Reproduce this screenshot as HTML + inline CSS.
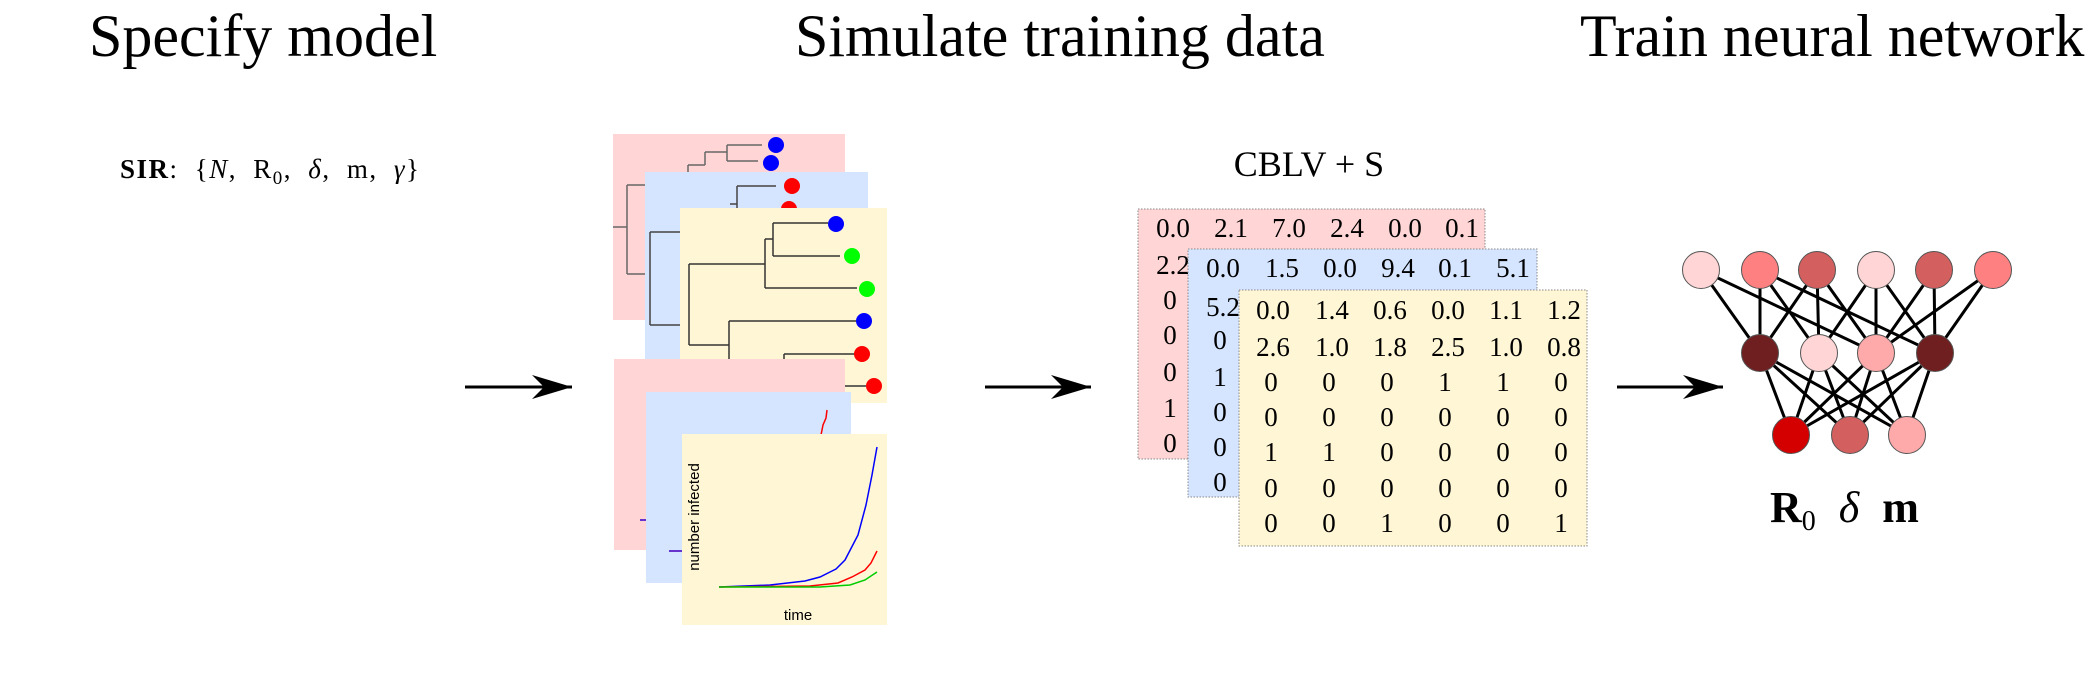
<!DOCTYPE html>
<html><head><meta charset="utf-8"><style>
body{margin:0;width:2095px;height:686px;background:#fff;overflow:hidden;position:relative;font-family:"Liberation Serif",serif}
.t{position:absolute;font-size:60px;top:2px;white-space:nowrap}
</style></head><body>
<div class="t" style="left:89px">Specify model</div>
<div class="t" style="left:795px">Simulate training data</div>
<div class="t" style="left:1580px">Train neural network</div>
<svg width="2095" height="686" style="position:absolute;left:0;top:0" font-family="Liberation Serif, serif">
<defs><marker id="ah" viewBox="0 0 40 24" refX="40" refY="12" markerWidth="40" markerHeight="24" markerUnits="userSpaceOnUse" orient="auto"><path d="M0,0 L40,12 L0,24 L12,12 Z" fill="#000"/></marker></defs>
<text x="120" y="178" font-size="27" word-spacing="8" letter-spacing="1.5"><tspan font-weight="bold">SIR</tspan>:  {<tspan font-style="italic">N</tspan>, R<tspan font-size="19" dy="6">0</tspan><tspan dy="-6">, </tspan><tspan font-style="italic">δ</tspan>, m, <tspan font-style="italic">γ</tspan>}</text>
<g stroke="#000" stroke-width="3" marker-end="url(#ah)">
<line x1="465" y1="387" x2="572" y2="387"/><line x1="985" y1="387" x2="1091" y2="387"/><line x1="1617" y1="387" x2="1723" y2="387"/></g>
<!-- trees -->
<rect x="613" y="134" width="232" height="186" fill="#ffd5d5"/>
<g stroke="#666" stroke-width="1.5" fill="none"><path d="M613 227H627M627 185V274M627 185H690M627 274H650M688 165V185M688 165H705M705 152V165M705 152H727M727 145V161M727 145H762M727 161H758"/></g>
<circle cx="776" cy="145" r="8" fill="#00f"/><circle cx="771" cy="163" r="8" fill="#00f"/>
<rect x="645" y="172" width="223" height="196" fill="#d5e5ff"/>
<g stroke="#444" stroke-width="1.5" fill="none"><path d="M650 232V325M650 232H680M650 325H680M737 186V210M737 186H776M730 204H737"/></g>
<circle cx="792" cy="186" r="8" fill="#f00"/><circle cx="789" cy="209" r="8" fill="#f00"/>
<rect x="680" y="208" width="207" height="195" fill="#fff6d5"/>
<g stroke="#333" stroke-width="1.5" fill="none"><path d="M689 264V345M689 264H765M765 239V288M765 239H773M773 223V256M773 223H828M773 256H840M765 288H857M689 345H729M729 321V370M729 321H856M729 370H784M784 354V386M784 354H855M784 386H866"/></g>
<circle cx="836" cy="224" r="8" fill="#00f"/><circle cx="852" cy="256" r="8" fill="#0f0"/><circle cx="867" cy="289" r="8" fill="#0f0"/><circle cx="864" cy="321" r="8" fill="#00f"/><circle cx="862" cy="354" r="8" fill="#f00"/><circle cx="874" cy="386" r="8" fill="#f00"/>
<!-- plots -->
<rect x="614" y="359" width="231" height="191" fill="#ffd5d5"/>
<line x1="640" y1="520" x2="646" y2="520" stroke="#63c" stroke-width="2"/>
<rect x="646" y="392" width="205" height="191" fill="#d5e5ff"/>
<path d="M820 440 L823 425 L826 418 L827 410" stroke="#f00" fill="none" stroke-width="1.5"/>
<line x1="669" y1="551" x2="682" y2="551" stroke="#63c" stroke-width="2"/>
<rect x="682" y="434" width="205" height="191" fill="#fff6d5"/>
<path d="M719 587 L770 585 L805 581 L820 577 L830 572 L836 569 L845 560 L858 535 L866 505 L872 475 L877 447" stroke="#00f" fill="none" stroke-width="1.5"/>
<path d="M719 587 L810 586 L838 583 L852 577 L865 570 L871 563 L877 551" stroke="#f00" fill="none" stroke-width="1.5"/>
<path d="M719 587 L820 587 L850 585 L865 580 L877 572" stroke="#0c0" fill="none" stroke-width="1.5"/>
<text x="0" y="0" font-family="Liberation Sans, sans-serif" font-size="15" text-anchor="middle" transform="translate(699,517) rotate(-90)">number infected</text>
<text x="798" y="620" font-family="Liberation Sans, sans-serif" font-size="15" text-anchor="middle">time</text>
<!-- matrices -->
<text x="1309" y="176" font-size="36" text-anchor="middle">CBLV + S</text>
<g font-size="27" text-anchor="middle" dominant-baseline="central">
<rect x="1138" y="209" width="347" height="250" fill="#ffd5d5" stroke="#888" stroke-dasharray="1.5,1.5"/>
<text y="228"><tspan x="1173">0.0</tspan><tspan x="1231">2.1</tspan><tspan x="1289">7.0</tspan><tspan x="1347">2.4</tspan><tspan x="1405">0.0</tspan><tspan x="1462">0.1</tspan></text>
<text x="1173" y="265">2.2</text><text x="1170" y="300">0</text><text x="1170" y="335">0</text><text x="1170" y="372">0</text><text x="1170" y="408">1</text><text x="1170" y="443">0</text>
<rect x="1188" y="249" width="349" height="248" fill="#d5e5ff" stroke="#888" stroke-dasharray="1.5,1.5"/>
<text y="268"><tspan x="1223">0.0</tspan><tspan x="1282">1.5</tspan><tspan x="1340">0.0</tspan><tspan x="1398">9.4</tspan><tspan x="1455">0.1</tspan><tspan x="1513">5.1</tspan></text>
<text x="1223" y="307">5.2</text><text x="1220" y="340">0</text><text x="1220" y="377">1</text><text x="1220" y="412">0</text><text x="1220" y="447">0</text><text x="1220" y="482">0</text>
<rect x="1239" y="290" width="348" height="256" fill="#fff6d5" stroke="#888" stroke-dasharray="1.5,1.5"/>
<text y="310"><tspan x="1273">0.0</tspan><tspan x="1332">1.4</tspan><tspan x="1390">0.6</tspan><tspan x="1448">0.0</tspan><tspan x="1506">1.1</tspan><tspan x="1564">1.2</tspan></text>
<text y="347"><tspan x="1273">2.6</tspan><tspan x="1332">1.0</tspan><tspan x="1390">1.8</tspan><tspan x="1448">2.5</tspan><tspan x="1506">1.0</tspan><tspan x="1564">0.8</tspan></text>
<text y="382"><tspan x="1271">0</tspan><tspan x="1329">0</tspan><tspan x="1387">0</tspan><tspan x="1445">1</tspan><tspan x="1503">1</tspan><tspan x="1561">0</tspan></text>
<text y="417"><tspan x="1271">0</tspan><tspan x="1329">0</tspan><tspan x="1387">0</tspan><tspan x="1445">0</tspan><tspan x="1503">0</tspan><tspan x="1561">0</tspan></text>
<text y="452"><tspan x="1271">1</tspan><tspan x="1329">1</tspan><tspan x="1387">0</tspan><tspan x="1445">0</tspan><tspan x="1503">0</tspan><tspan x="1561">0</tspan></text>
<text y="488"><tspan x="1271">0</tspan><tspan x="1329">0</tspan><tspan x="1387">0</tspan><tspan x="1445">0</tspan><tspan x="1503">0</tspan><tspan x="1561">0</tspan></text>
<text y="523"><tspan x="1271">0</tspan><tspan x="1329">0</tspan><tspan x="1387">1</tspan><tspan x="1445">0</tspan><tspan x="1503">0</tspan><tspan x="1561">1</tspan></text>
</g>
<!-- NN -->
<g stroke="#000" stroke-width="3">
<path d="M1701 270L1760 353M1701 270L1876 353M1760 270L1760 353M1760 270L1819 353M1760 270L1935 353M1817 270L1760 353M1817 270L1819 353M1817 270L1876 353M1876 270L1819 353M1876 270L1876 353M1876 270L1935 353M1934 270L1876 353M1934 270L1935 353M1993 270L1876 353M1993 270L1935 353"/>
<path d="M1760 353L1791 435M1760 353L1850 435M1760 353L1907 435M1819 353L1791 435M1819 353L1850 435M1819 353L1907 435M1876 353L1791 435M1876 353L1850 435M1876 353L1907 435M1935 353L1791 435M1935 353L1850 435M1935 353L1907 435"/>
</g>
<g stroke="#555" stroke-width="1">
<circle cx="1701" cy="270" r="18.5" fill="#ffd5d5"/><circle cx="1760" cy="270" r="18.5" fill="#ff8080"/><circle cx="1817" cy="270" r="18.5" fill="#d35f5f"/><circle cx="1876" cy="270" r="18.5" fill="#ffd5d5"/><circle cx="1934" cy="270" r="18.5" fill="#d35f5f"/><circle cx="1993" cy="270" r="18.5" fill="#ff8080"/>
<circle cx="1760" cy="353" r="18.5" fill="#6f1f1f"/><circle cx="1819" cy="353" r="18.5" fill="#ffd5d5"/><circle cx="1876" cy="353" r="18.5" fill="#ffaaaa"/><circle cx="1935" cy="353" r="18.5" fill="#6f1f1f"/>
<circle cx="1791" cy="435" r="18.5" fill="#d40000"/><circle cx="1850" cy="435" r="18.5" fill="#d35f5f"/><circle cx="1907" cy="435" r="18.5" fill="#ffaaaa"/>
</g>
<text x="1770" y="522" font-size="44" font-weight="bold" word-spacing="12">R<tspan font-size="28" font-weight="normal" dy="8">0</tspan><tspan dy="-8" font-style="italic" font-weight="normal"> δ </tspan>m</text>
</svg>
</body></html>
